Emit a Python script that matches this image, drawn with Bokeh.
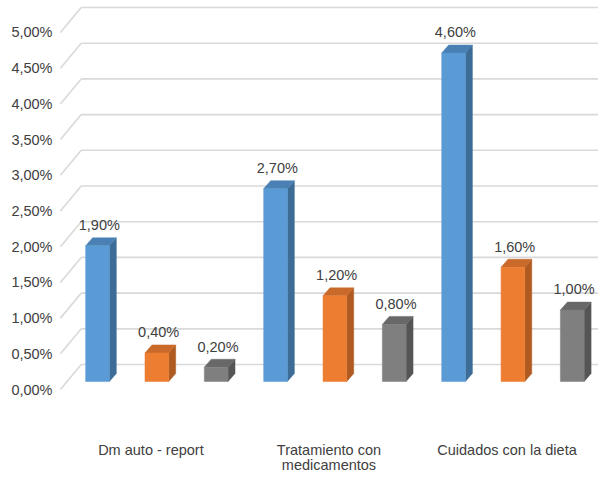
from bokeh.plotting import figure
from bokeh.models import Range1d, FixedTicker, ColumnDataSource
from bokeh.embed import file_html
from bokeh.resources import INLINE
from bokeh.core.properties import value

# ---- data ----
categories = ["Dm auto - report", "Tratamiento con\nmedicamentos", "Cuidados con la dieta"]
serie_1 = [1.90, 2.70, 4.60]
serie_2 = [0.40, 1.20, 1.60]
serie_3 = [0.20, 0.80, 1.00]
tick_values = [0.0, 0.5, 1.0, 1.5, 2.0, 2.5, 3.0, 3.5, 4.0, 4.5, 5.0]
tick_labels = ["0,00%", "0,50%", "1,00%", "1,50%", "2,00%", "2,50%",
               "3,00%", "3,50%", "4,00%", "4,50%", "5,00%"]

# ---- style ----
FONT = "Liberation Sans"
FSIZE = "14.5px"
TXT = "#404040"
GRID = "#D9D9D9"
series_styles = [
    ("#5B9BD5", "#3D6C97", "#4A80B4"),
    ("#ED7D31", "#AE5A20", "#C96A2B"),
    ("#7F7F7F", "#555555", "#686868"),
]
BAR_W = 0.4          # front face width (slot units)
DEPTH_DX = 0.117     # bar side depth
DEPTH_DY = 0.112
BAR_BASE = 0.112     # bars stand deeper than the axis plane
WALL_X = -0.625      # left wall front edge
WALL_DX = 0.35       # room depth
WALL_DY = 0.35

p = figure(width=598, height=472, output_backend="svg", toolbar_location=None,
           x_range=Range1d(-0.708, 8.442), y_range=Range1d(-1.162, 5.448),
           x_axis_location=None, min_border=0, min_border_left=55)
p.outline_line_color = None
p.xgrid.visible = False
p.ygrid.visible = False

ax = p.yaxis[0]
ax.ticker = FixedTicker(ticks=tick_values)
ax.major_label_overrides = {v: l for v, l in zip(tick_values, tick_labels)}
ax.axis_line_color = None
ax.major_tick_line_color = None
ax.minor_tick_line_color = None
ax.major_tick_out = 0
ax.major_tick_in = 0
ax.major_label_standoff = 3
ax.major_label_text_font = FONT
ax.major_label_text_font_size = FSIZE
ax.major_label_text_color = TXT

# ---- room grid: back wall lines + left wall diagonals ----
p.segment(x0=[WALL_X + WALL_DX] * len(tick_values), y0=[v + WALL_DY for v in tick_values],
          x1=[9.5] * len(tick_values), y1=[v + WALL_DY for v in tick_values],
          line_color=GRID, line_width=1.6)
p.segment(x0=[WALL_X] * len(tick_values), y0=tick_values,
          x1=[WALL_X + WALL_DX] * len(tick_values), y1=[v + WALL_DY for v in tick_values],
          line_color=GRID, line_width=1.6)

# ---- 3D bars ----
all_series = [serie_1, serie_2, serie_3]
for s, (vals, (c_front, c_side, c_top)) in enumerate(zip(all_series, series_styles)):
    xs_c = [3 * g + s for g in range(len(vals))]
    left = [x - BAR_W / 2 for x in xs_c]
    right = [x + BAR_W / 2 for x in xs_c]
    bottom = [BAR_BASE] * len(vals)
    top = [BAR_BASE + v for v in vals]
    side_xs = [[r, r + DEPTH_DX, r + DEPTH_DX, r] for r in right]
    side_ys = [[b, b + DEPTH_DY, t + DEPTH_DY, t] for b, t in zip(bottom, top)]
    top_xs = [[l, r, r + DEPTH_DX, l + DEPTH_DX] for l, r in zip(left, right)]
    top_ys = [[t, t, t + DEPTH_DY, t + DEPTH_DY] for t in top]
    p.patches(xs=side_xs, ys=side_ys, fill_color=c_side, line_color=c_side, line_width=0.5)
    p.patches(xs=top_xs, ys=top_ys, fill_color=c_top, line_color=c_top, line_width=0.5)
    p.quad(left=left, right=right, bottom=bottom, top=top,
           fill_color=c_front, line_color=c_front, line_width=0.5)
    lab = ColumnDataSource(dict(
        x=[x + 0.03 for x in xs_c],
        y=[t + 0.29 for t in top],
        text=[f"{v:.2f}".replace(".", ",") + "%" for v in vals]))
    p.text(x="x", y="y", text="text", source=lab, text_align="center",
           text_baseline="middle", text_font=value(FONT),
           text_font_size=value(FSIZE), text_color=TXT)

# ---- category labels ----
n_series = len(all_series)
centers = [n_series * g + (n_series - 1) / 2 - 0.1 for g in range(len(categories))]
lines = [c.split("\n") for c in categories]
row1 = ColumnDataSource(dict(x=centers, y=[-0.84] * len(categories),
                             text=[l[0] for l in lines]))
row2 = ColumnDataSource(dict(x=[c for c, l in zip(centers, lines) if len(l) > 1],
                             y=[-1.06 for l in lines if len(l) > 1],
                             text=[l[1] for l in lines if len(l) > 1]))
for src in (row1, row2):
    p.text(x="x", y="y", text="text", source=src, text_align="center",
           text_baseline="middle", text_font=value(FONT),
           text_font_size=value(FSIZE), text_color=TXT)

open("out.html", "w").write(file_html(p, INLINE))
